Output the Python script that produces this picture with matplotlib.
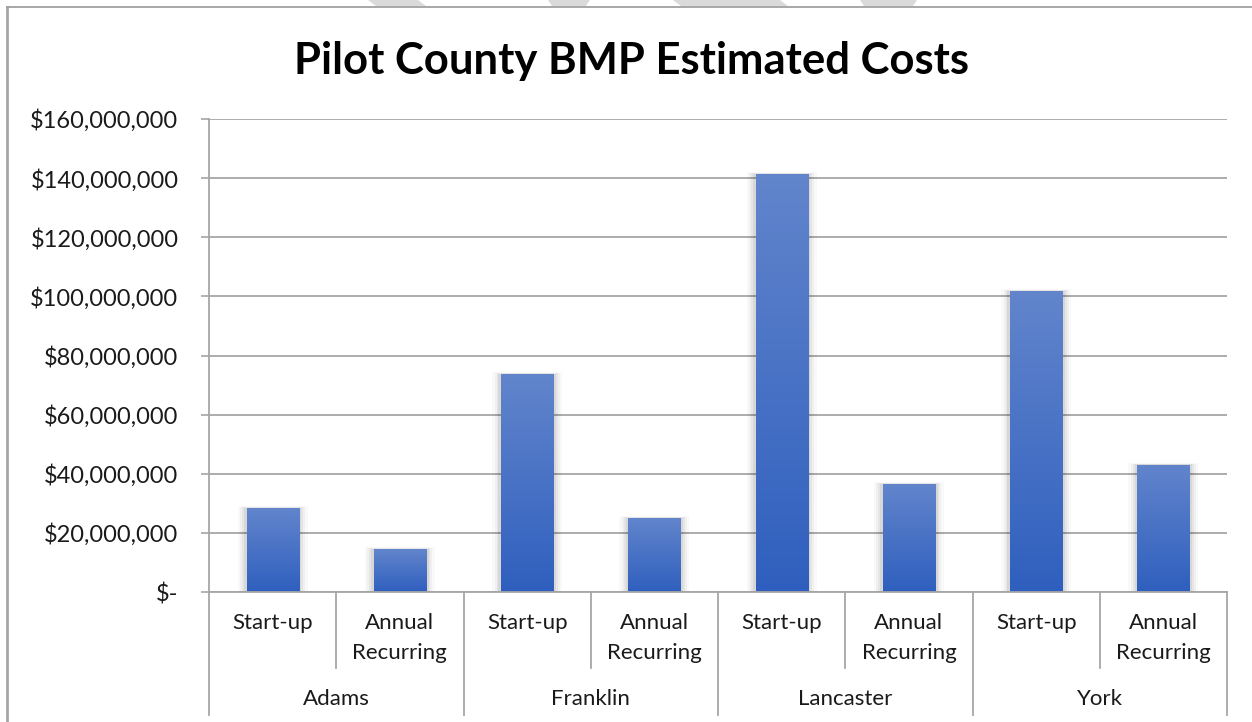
import matplotlib
matplotlib.use("Agg")
import matplotlib.pyplot as plt
import numpy as np
from matplotlib.patches import Rectangle, Polygon
from matplotlib.colors import LinearSegmentedColormap
from matplotlib.ticker import FuncFormatter, MultipleLocator
import matplotlib.transforms as mtransforms

# ---- data ----
counties = ["Adams", "Franklin", "Lancaster", "York"]
cost_types = ["Start-up", "Annual\nRecurring"]
values = [28.4e6, 14.5e6, 73.7e6, 25.0e6, 141.4e6, 36.5e6, 101.8e6, 43.0e6]
title = "Pilot County BMP Estimated Costs"

W, H = 1252, 722
fig = plt.figure(figsize=(W / 100, H / 100), dpi=100)
plt.rcParams['font.family'] = ['Lato', 'DejaVu Sans']

# plot area in pixels
x0, x1 = 209, 1227
y_top, y_bot = 119, 592
ax = fig.add_axes([x0 / W, 1 - y_bot / H, (x1 - x0) / W, (y_bot - y_top) / H])
n = len(values)
ax.set_xlim(-0.5, n - 0.5)
ax.set_ylim(0, 160e6)

for s in ["top", "right", "bottom"]:
    ax.spines[s].set_visible(False)
ax.spines["left"].set_color("#A6A6A6")
ax.spines["left"].set_linewidth(1.3)

ax.yaxis.set_major_locator(MultipleLocator(20e6))
def fmt(v, pos):
    if abs(v) < 1:
        return "$-"
    return "${:,.0f}".format(v)
ax.yaxis.set_major_formatter(FuncFormatter(fmt))
ax.tick_params(axis="y", length=6, width=1.2, color="#A6A6A6", labelsize=17,
               labelcolor="#1a1a1a", pad=16)
ax.set_xticks([])
ax.grid(axis="y", color="#A6A6A6", linewidth=1.3)
ax.set_axisbelow(True)

# bars with gradient + soft shadow
cmap = LinearSegmentedColormap.from_list("g", ["#2F5FBE", "#6285CC"])
grad = np.linspace(0, 1, 256).reshape(-1, 1)
bw = 0.41
xs = np.arange(n)
bars = ax.bar(xs, values, width=bw, color="none", zorder=3)
for b in bars:
    bx, by, bwid, bh = b.get_x(), b.get_y(), b.get_width(), b.get_height()
    # soft shadow
    for k, a in zip([0.07, 0.05, 0.035, 0.02], [0.025, 0.035, 0.045, 0.06]):
        sh = Rectangle((bx - k, by), bwid + 2 * k, bh + k * 8e6,
                       facecolor="black", alpha=a, edgecolor="none", zorder=2)
        ax.add_patch(sh)
    im = ax.imshow(grad, extent=[bx, bx + bwid, by, by + bh], origin="lower",
                   cmap=cmap, aspect="auto", zorder=4, interpolation="bilinear")
    clip = Rectangle((bx, by), bwid, bh, transform=ax.transData)
    im.set_clip_path(clip)
ax.set_xlim(-0.5, n - 0.5)
ax.set_ylim(0, 160e6)

# category axis
trans = mtransforms.blended_transform_factory(ax.transData, ax.transAxes)
ph = (y_bot - y_top)
def ay(py):
    return (y_bot - py) / ph

ax.plot([-0.5, n - 0.5], [0, 0], transform=trans, color="#A6A6A6", lw=1.3,
        clip_on=False, zorder=5)
for i in range(n + 1):
    xpos = i - 0.5
    low = 715 if i % 2 == 0 else 668
    ax.plot([xpos, xpos], [0, ay(low)], transform=trans, color="#A6A6A6",
            lw=1.3, clip_on=False, zorder=5)

for i in range(n):
    lines = cost_types[i % 2].split("\n")
    for j, ln in enumerate(lines):
        ax.text(i, ay(623 + 30 * j), ln, transform=trans, ha="center",
                va="center", fontsize=16, color="#1a1a1a")
for g, c in enumerate(counties):
    ax.text(2 * g + 0.5, ay(699), c, transform=trans, ha="center",
            va="center", fontsize=16, color="#1a1a1a")

# title
fig.text(631 / W, 1 - 61 / H, title, ha="center", va="center",
         fontsize=31.4, fontweight="bold", color="black")

# chart border
fig.add_artist(plt.Line2D([7 / W, 7 / W], [0, 1 - 7 / H], color="#A6A6A6",
                          lw=2.0, transform=fig.transFigure))
fig.add_artist(plt.Line2D([7 / W, 1], [1 - 7 / H, 1 - 7 / H], color="#A0A0A0",
                          lw=1.3, transform=fig.transFigure))

# faint watermark fragments above the border
px = mtransforms.Affine2D().scale(1 / W, -1 / H).translate(0, 1) + fig.transFigure
for pts in [[(368, 0), (418, 0), (426, 6), (376, 6)],
            [(548, 0), (590, 0), (586, 6), (552, 6)],
            [(673, 0), (780, 0), (788, 6), (681, 6)],
            [(860, 0), (917, 0), (913, 6), (864, 6)]]:
    fig.add_artist(Polygon(pts, closed=True, transform=px, facecolor="#DADADA",
                           edgecolor="none"))

fig.savefig("out.png", dpi=100)
